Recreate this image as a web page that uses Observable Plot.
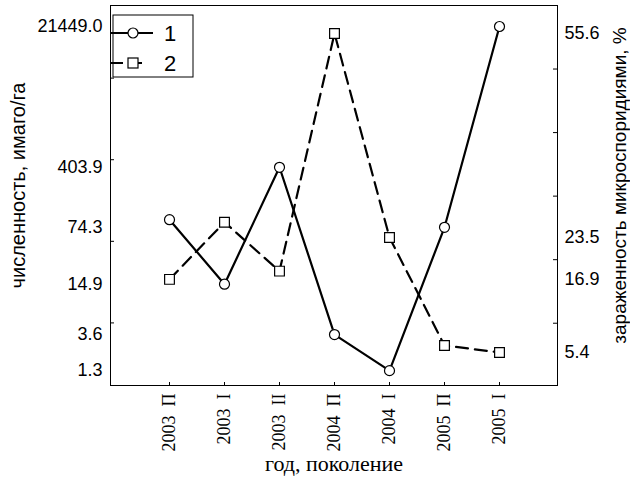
<!DOCTYPE html>
<html>
<head>
<meta charset="utf-8">
<script src="https://cdn.jsdelivr.net/npm/d3@7"></script>
<script src="https://cdn.jsdelivr.net/npm/@observablehq/plot@0.6"></script>
<style>
  html, body { margin: 0; padding: 0; background: #fff; }
  #wrap { position: relative; width: 630px; height: 497px; }
  #wrap > * { position: absolute; left: 0; top: 0; }
</style>
</head>
<body>
<div id="wrap"></div>
<script>
// ---- data ----
const categories = ["2003  П", "2003  I", "2003  II", "2004  П", "2004  I", "2005  П", "2005  I"];
const abundance = [92, 14.9, 403.9, 3.6, 1.3, 74.3, 21449.0];       // численность, имаго/га (left, log)
const infection = [16.9, 25.9, 18.2, 55.6, 23.5, 6.5, 5.4];          // зараженность, % (right)
const leftTickLabels = [1.3, 3.6, 14.9, 74.3, 403.9, 21449.0];
const leftTickMarks = [5, 50, 500, 5000];
const rightTickLabels = [5.4, 16.9, 23.5, 55.6];
const rightTickMarks = [10, 20, 30, 40, 50];
const seriesNames = ["1", "2"];
const leftTitle = "численность, имаго/га";
const rightTitle = "зараженность микроспоридиями, %";
const xTitle = "год, поколение";

const s1 = categories.map((c, i) => ({cat: c, v: abundance[i]}));
const s2 = categories.map((c, i) => ({cat: c, v: infection[i]}));

const W = 630, H = 497;
const M = {top: 5, right: 73, bottom: 112, left: 110};
const sans = "'Liberation Sans', Arial, sans-serif";
const serif = "'Liberation Serif', 'Times New Roman', serif";
const xScale = {type: "point", domain: categories, padding: 1};
const plotW = W - M.left - M.right, plotH = H - M.top - M.bottom;

const p1 = Plot.plot({
  width: W, height: H,
  marginTop: M.top, marginRight: M.right, marginBottom: M.bottom, marginLeft: M.left,
  style: {fontFamily: sans, fontSize: "18px", background: "transparent", color: "#000"},
  x: xScale,
  y: {type: "log", domain: [0.855, 38800], axis: null},
  marks: [
    Plot.frame({stroke: "#000", strokeWidth: 1}),
    Plot.text(leftTickLabels, {y: d => d, text: d => d.toFixed(1), frameAnchor: "left", textAnchor: "end",
      dx: -8, fontSize: 18, fill: "#000"}),
    Plot.ruleY(leftTickMarks, {insetRight: plotW - 4, stroke: "#000"}),
    Plot.ruleX(categories, {insetTop: plotH - 3, stroke: "#000"}),
    Plot.axisX({tickRotate: -90, tickSize: 0, tickPadding: 8, fontFamily: serif, fontSize: 18, label: null}),
    Plot.text([leftTitle], {frameAnchor: "left", textAnchor: "middle", rotate: -90, dx: -92, dy: -10, fontSize: 20, fill: "#000"}),
    Plot.text([xTitle], {frameAnchor: "bottom", dy: 85, fontFamily: serif, fontSize: 22, fill: "#000"}),
    Plot.line(s1, {x: "cat", y: "v", stroke: "#000", strokeWidth: 2.2}),
    Plot.dot(s1, {x: "cat", y: "v", r: 5, fill: "#fff", stroke: "#000", strokeWidth: 1.2})
  ]
});

const p2 = Plot.plot({
  width: W, height: H,
  marginTop: M.top, marginRight: M.right, marginBottom: M.bottom, marginLeft: M.left,
  style: {fontFamily: sans, fontSize: "18px", background: "transparent", color: "#000"},
  x: {...xScale, axis: null},
  y: {type: "linear", domain: [0.2, 60], axis: null},
  marks: [
    Plot.text(rightTickLabels, {y: d => d, text: d => d.toFixed(1), frameAnchor: "right", textAnchor: "start",
      dx: 7, fontSize: 18, fill: "#000"}),
    Plot.ruleY(rightTickMarks, {insetLeft: plotW - 4, stroke: "#000"}),
    Plot.text([rightTitle], {frameAnchor: "right", textAnchor: "middle", rotate: -90, dx: 62, dy: -10,
      fontSize: 19, letterSpacing: "-0.3px", fill: "#000"}),
    Plot.line(s2, {x: "cat", y: "v", stroke: "#000", strokeWidth: 2.2, strokeDasharray: "12,7"}),
    Plot.dot(s2, {x: "cat", y: "v", symbol: "square", r: 5.5, fill: "#fff", stroke: "#000", strokeWidth: 1.2})
  ]
});

const wrap = document.getElementById("wrap");
wrap.appendChild(p1);
wrap.appendChild(p2);

// ---- legend ----
const lg = d3.create("svg").attr("width", W).attr("height", H).style("pointer-events", "none");
lg.append("rect").attr("x", 113).attr("y", 15).attr("width", 80).attr("height", 62)
  .attr("fill", "#fff").attr("stroke", "#000");
const rows = [{y: 33, dash: null, sym: "circle", len: 42}, {y: 63, dash: "12,7", sym: "square", len: 31}];
rows.forEach((r, i) => {
  lg.append("line").attr("x1", 111).attr("x2", 111 + r.len).attr("y1", r.y).attr("y2", r.y)
    .attr("stroke", "#000").attr("stroke-width", 2.2).attr("stroke-dasharray", r.dash);
  if (r.sym === "circle") {
    lg.append("circle").attr("cx", 133).attr("cy", r.y).attr("r", 5).attr("fill", "#fff").attr("stroke", "#000").attr("stroke-width", 1.2);
  } else {
    lg.append("rect").attr("x", 128).attr("y", r.y - 5).attr("width", 10).attr("height", 10).attr("fill", "#fff").attr("stroke", "#000").attr("stroke-width", 1.2);
  }
  lg.append("text").attr("x", 164).attr("y", r.y).attr("dy", "0.36em").attr("font-family", sans)
    .attr("font-size", 22).text(seriesNames[i]);
});
wrap.appendChild(lg.node());
</script>
</body>
</html>
